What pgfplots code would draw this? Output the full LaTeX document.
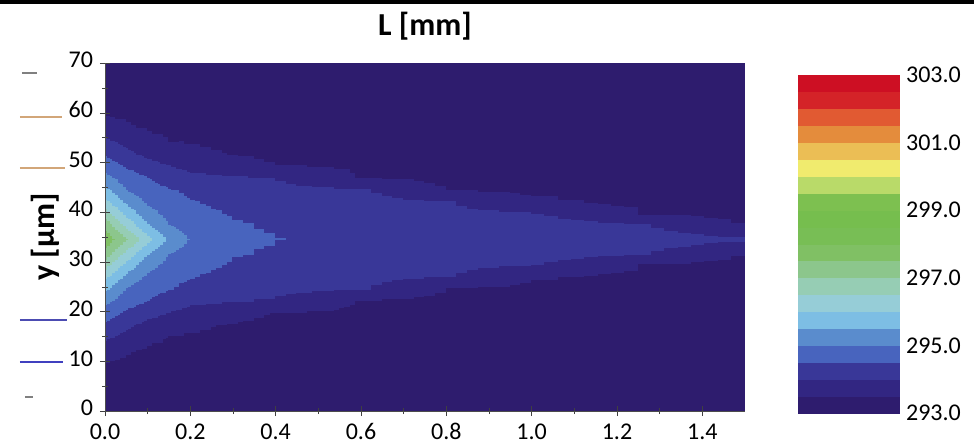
\documentclass[border=0pt]{standalone}
\usepackage{fontspec}
\setmainfont{Carlito}
\usepackage{pgfplots}
\usepgfplotslibrary{patchplots}
\pgfplotsset{compat=1.18}

% 20 bands of 0.5 K, 293.0 ... 303.0
\pgfplotsset{colormap={temp}{
  rgb255=(46,28,110) rgb255=(50,38,130) rgb255=(57,55,152) rgb255=(72,100,190)
  rgb255=(90,140,205) rgb255=(125,190,228) rgb255=(150,205,215) rgb255=(150,205,180)
  rgb255=(140,198,140) rgb255=(128,192,100) rgb255=(120,190,85) rgb255=(118,190,78)
  rgb255=(125,192,80) rgb255=(185,218,105) rgb255=(240,235,110) rgb255=(235,190,85)
  rgb255=(228,140,60) rgb255=(225,90,50) rgb255=(212,35,40) rgb255=(205,15,35)}}

\begin{document}
\begin{tikzpicture}
\path[use as bounding box] (-52.5pt,-17pt) rectangle (434.5pt,205.5pt);
\fill[black] (-52.5pt,203.5pt) rectangle (434.5pt,205.5pt);
% stray marks left of the y axis
\draw[line width=1pt,gray] (-41.5pt,169pt) -- (-34pt,169pt);
\draw[line width=1pt,brown!70!white] (-42.5pt,147pt) -- (-21.5pt,147pt);
\draw[line width=1pt,brown!70!white] (-42.5pt,121.5pt) -- (-20pt,121.5pt);
\draw[line width=1pt,blue!40!gray] (-42.5pt,45.5pt) -- (-19pt,45.5pt);
\draw[line width=1pt,blue!50!gray] (-42.5pt,24.5pt) -- (-21pt,24.5pt);
\draw[line width=1pt,gray] (-40pt,7pt) -- (-36pt,7pt);
\begin{axis}[
    scale only axis,
    width=320pt, height=174pt,
    view={0}{90},
    xmin=0, xmax=1.5, ymin=0, ymax=70,
    xtick={0,0.2,0.4,0.6,0.8,1.0,1.2,1.4},
    ytick={0,10,20,30,40,50,60,70},
    minor x tick num=1, minor y tick num=1,
    xticklabel style={/pgf/number format/.cd,fixed,fixed zerofill,precision=1},
    tick label style={font=\fontsize{12}{12}\selectfont},
    typeset ticklabels with strut,
    /pgf/number format/assume math mode=true,
    tick align=center,
    major tick length=5pt, minor tick length=3pt,
    tick style={gray!50!black},
    axis lines*=left,
    axis line style={-, gray!60!black},
    axis on top,
    title={L [mm]},
    title style={at={(axis description cs:0.5,1)}, anchor=base, yshift=8pt,
        font=\fontsize{16}{16}\selectfont\bfseries},
    ylabel={y [μm]},
    ylabel style={at={(axis description cs:0,0.5)}, anchor=center, yshift=30pt,
        font=\fontsize{16}{16}\selectfont\bfseries},
    colormap name=temp,
    colormap access=piecewise constant,
    point meta min=293, point meta max=303,
    colorbar,
    colorbar style={
        scale only axis,
        at={(parent axis.south east)}, anchor=south west,
        xshift=18pt, yshift=-1pt,
        width=50.5pt, height=169pt,
        ytick={293,295,297,299,301,303},
        yticklabel style={/pgf/number format/.cd,fixed,fixed zerofill,precision=1,
            assume math mode=true},
        tick label style={font=\fontsize{12}{12}\selectfont},
        major tick length=0pt,
        axis line style={draw=none},
    },
]
\addplot3[surf, shader=interp, patch type=bilinear, mesh/ordering=y varies] table {
0 0 293.05
0 4.5 293.2
0 9.5 293.48
0 12 293.78
0 14.5 294.06
0 17 294.38
0 19.5 294.73
0 22 295.14
0 24.5 295.6
0 27 296.13
0 29.5 296.75
0 31.5 297.25
0 33 297.58
0 34.5 297.8
0 36 297.58
0 37.5 297.25
0 39.5 296.75
0 42 296.13
0 44.5 295.6
0 47 295.14
0 49.5 294.73
0 52 294.38
0 54.5 294.06
0 57 293.78
0 59.5 293.48
0 64.5 293.2
0 70 293.05

0.05 0 293.03
0.05 4.5 293.15
0.05 9.5 293.4
0.05 12 293.55
0.05 14.5 293.8
0.05 17 294.07
0.05 19.5 294.42
0.05 22 294.71
0.05 24.5 294.98
0.05 27 295.38
0.05 29.5 295.87
0.05 31.5 296.32
0.05 33 296.67
0.05 34.5 297.02
0.05 36 296.67
0.05 37.5 296.32
0.05 39.5 295.87
0.05 42 295.38
0.05 44.5 294.98
0.05 47 294.71
0.05 49.5 294.42
0.05 52 294.07
0.05 54.5 293.8
0.05 57 293.55
0.05 59.5 293.4
0.05 64.5 293.15
0.05 70 293.03

0.1 0 293.03
0.1 4.5 293.16
0.1 9.5 293.33
0.1 12 293.44
0.1 14.5 293.6
0.1 17 293.85
0.1 19.5 294.14
0.1 22 294.49
0.1 24.5 294.7
0.1 27 294.9
0.1 29.5 295.2
0.1 31.5 295.5
0.1 33 295.83
0.1 34.5 296.15
0.1 36 295.83
0.1 37.5 295.5
0.1 39.5 295.2
0.1 42 294.9
0.1 44.5 294.7
0.1 47 294.49
0.1 49.5 294.14
0.1 52 293.85
0.1 54.5 293.6
0.1 57 293.44
0.1 59.5 293.33
0.1 64.5 293.16
0.1 70 293.03

0.15 0 293.03
0.15 4.5 293.15
0.15 9.5 293.3
0.15 12 293.38
0.15 14.5 293.47
0.15 17 293.71
0.15 19.5 293.97
0.15 22 294.25
0.15 24.5 294.52
0.15 27 294.69
0.15 29.5 294.85
0.15 31.5 294.99
0.15 33 295.19
0.15 34.5 295.4
0.15 36 295.19
0.15 37.5 294.99
0.15 39.5 294.85
0.15 42 294.69
0.15 44.5 294.52
0.15 47 294.25
0.15 49.5 293.97
0.15 52 293.71
0.15 54.5 293.47
0.15 57 293.38
0.15 59.5 293.3
0.15 64.5 293.15
0.15 70 293.03

0.2 0 293.03
0.2 4.5 293.15
0.2 9.5 293.3
0.2 12 293.38
0.2 14.5 293.45
0.2 17 293.56
0.2 19.5 293.83
0.2 22 294.1
0.2 24.5 294.33
0.2 27 294.54
0.2 29.5 294.7
0.2 31.5 294.79
0.2 33 294.87
0.2 34.5 294.95
0.2 36 294.87
0.2 37.5 294.79
0.2 39.5 294.7
0.2 42 294.54
0.2 44.5 294.33
0.2 47 294.1
0.2 49.5 293.83
0.2 52 293.56
0.2 54.5 293.45
0.2 57 293.38
0.2 59.5 293.3
0.2 64.5 293.15
0.2 70 293.03

0.3 0 293.03
0.3 4.5 293.13
0.3 9.5 293.26
0.3 12 293.32
0.3 14.5 293.38
0.3 17 293.45
0.3 19.5 293.66
0.3 22 294.02
0.3 24.5 294.16
0.3 27 294.3
0.3 29.5 294.45
0.3 31.5 294.55
0.3 33 294.63
0.3 34.5 294.7
0.3 36 294.63
0.3 37.5 294.55
0.3 39.5 294.45
0.3 42 294.3
0.3 44.5 294.16
0.3 47 294.02
0.3 49.5 293.66
0.3 52 293.45
0.3 54.5 293.38
0.3 57 293.32
0.3 59.5 293.26
0.3 64.5 293.13
0.3 70 293.03

0.4 0 293.03
0.4 4.5 293.12
0.4 9.5 293.25
0.4 12 293.3
0.4 14.5 293.35
0.4 17 293.4
0.4 19.5 293.47
0.4 22 293.95
0.4 24.5 294.09
0.4 27 294.2
0.4 29.5 294.3
0.4 31.5 294.38
0.4 33 294.44
0.4 34.5 294.52
0.4 36 294.44
0.4 37.5 294.38
0.4 39.5 294.3
0.4 42 294.2
0.4 44.5 294.09
0.4 47 293.95
0.4 49.5 293.47
0.4 52 293.4
0.4 54.5 293.35
0.4 57 293.3
0.4 59.5 293.25
0.4 64.5 293.12
0.4 70 293.03

0.5 0 293.03
0.5 4.5 293.12
0.5 9.5 293.25
0.5 12 293.3
0.5 14.5 293.35
0.5 17 293.4
0.5 19.5 293.45
0.5 22 293.77
0.5 24.5 294.06
0.5 27 294.15
0.5 29.5 294.23
0.5 31.5 294.3
0.5 33 294.35
0.5 34.5 294.4
0.5 36 294.35
0.5 37.5 294.3
0.5 39.5 294.23
0.5 42 294.15
0.5 44.5 294.06
0.5 47 293.77
0.5 49.5 293.45
0.5 52 293.4
0.5 54.5 293.35
0.5 57 293.3
0.5 59.5 293.25
0.5 64.5 293.12
0.5 70 293.03

0.6 0 293.03
0.6 4.5 293.12
0.6 9.5 293.24
0.6 12 293.28
0.6 14.5 293.32
0.6 17 293.36
0.6 19.5 293.4
0.6 22 293.45
0.6 24.5 294.03
0.6 27 294.11
0.6 29.5 294.19
0.6 31.5 294.25
0.6 33 294.3
0.6 34.5 294.35
0.6 36 294.3
0.6 37.5 294.25
0.6 39.5 294.19
0.6 42 294.11
0.6 44.5 294.03
0.6 47 293.45
0.6 49.5 293.4
0.6 52 293.36
0.6 54.5 293.32
0.6 57 293.28
0.6 59.5 293.24
0.6 64.5 293.12
0.6 70 293.03

0.8 0 293.03
0.8 4.5 293.12
0.8 9.5 293.23
0.8 12 293.27
0.8 14.5 293.3
0.8 17 293.35
0.8 19.5 293.38
0.8 22 293.42
0.8 24.5 293.47
0.8 27 294.01
0.8 29.5 294.12
0.8 31.5 294.2
0.8 33 294.26
0.8 34.5 294.3
0.8 36 294.26
0.8 37.5 294.2
0.8 39.5 294.12
0.8 42 294.01
0.8 44.5 293.47
0.8 47 293.42
0.8 49.5 293.38
0.8 52 293.35
0.8 54.5 293.3
0.8 57 293.27
0.8 59.5 293.23
0.8 64.5 293.12
0.8 70 293.03

1.0 0 293.03
1.0 4.5 293.11
1.0 9.5 293.22
1.0 12 293.26
1.0 14.5 293.29
1.0 17 293.32
1.0 19.5 293.35
1.0 22 293.38
1.0 24.5 293.42
1.0 27 293.55
1.0 29.5 294.05
1.0 31.5 294.14
1.0 33 294.2
1.0 34.5 294.25
1.0 36 294.2
1.0 37.5 294.14
1.0 39.5 294.05
1.0 42 293.55
1.0 44.5 293.42
1.0 47 293.38
1.0 49.5 293.35
1.0 52 293.32
1.0 54.5 293.29
1.0 57 293.26
1.0 59.5 293.22
1.0 64.5 293.11
1.0 70 293.03

1.25 0 293.03
1.25 4.5 293.1
1.25 9.5 293.2
1.25 12 293.24
1.25 14.5 293.27
1.25 17 293.3
1.25 19.5 293.32
1.25 22 293.35
1.25 24.5 293.38
1.25 27 293.42
1.25 29.5 293.5
1.25 31.5 294.03
1.25 33 294.1
1.25 34.5 294.15
1.25 36 294.1
1.25 37.5 294.03
1.25 39.5 293.5
1.25 42 293.42
1.25 44.5 293.38
1.25 47 293.35
1.25 49.5 293.32
1.25 52 293.3
1.25 54.5 293.27
1.25 57 293.24
1.25 59.5 293.2
1.25 64.5 293.1
1.25 70 293.03

1.5 0 293.02
1.5 4.5 293.09
1.5 9.5 293.18
1.5 12 293.21
1.5 14.5 293.24
1.5 17 293.26
1.5 19.5 293.28
1.5 22 293.3
1.5 24.5 293.33
1.5 27 293.36
1.5 29.5 293.4
1.5 31.5 293.45
1.5 33 293.8
1.5 34.5 294.05
1.5 36 293.8
1.5 37.5 293.45
1.5 39.5 293.4
1.5 42 293.36
1.5 44.5 293.33
1.5 47 293.3
1.5 49.5 293.28
1.5 52 293.26
1.5 54.5 293.24
1.5 57 293.21
1.5 59.5 293.18
1.5 64.5 293.09
1.5 70 293.02
};
\end{axis}
\end{tikzpicture}
\end{document}
